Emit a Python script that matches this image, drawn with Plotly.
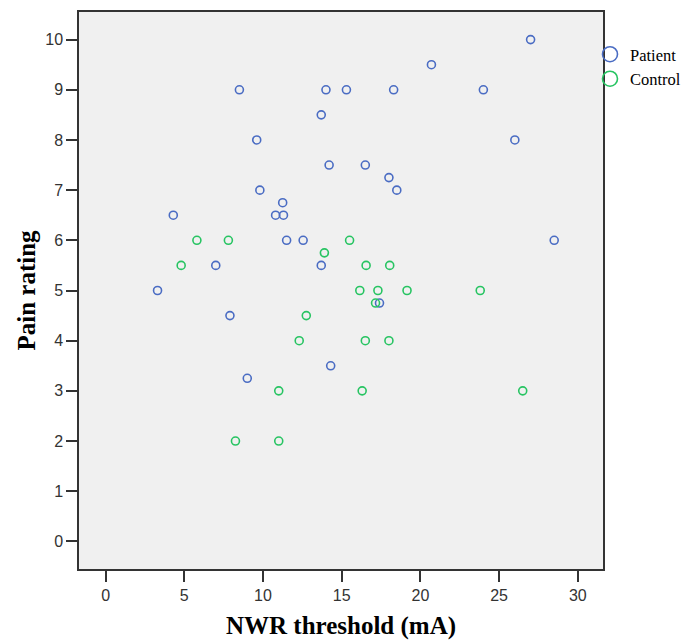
import plotly.graph_objects as go

# Patient series
patient_x = [27.0, 20.7, 8.5, 14.0, 15.3, 18.3, 24.0, 13.7, 9.6, 26.0,
             14.2, 16.5, 18.0, 9.8, 18.5, 11.25, 4.3, 10.8, 11.3, 11.5,
             12.55, 28.5, 7.0, 13.7, 3.3, 17.4, 7.9, 14.3, 9.0]
patient_y = [10, 9.5, 9, 9, 9, 9, 9, 8.5, 8, 8,
             7.5, 7.5, 7.25, 7, 7, 6.75, 6.5, 6.5, 6.5, 6,
             6, 6, 5.5, 5.5, 5, 4.75, 4.5, 3.5, 3.25]

# Control series
control_x = [5.8, 7.8, 15.5, 13.9, 4.8, 16.55, 18.05, 16.15, 17.3, 19.15,
             23.8, 17.15, 12.75, 12.3, 16.5, 18.0, 11.0, 16.3, 26.5, 8.25, 11.0]
control_y = [6, 6, 6, 5.75, 5.5, 5.5, 5.5, 5, 5, 5,
             5, 4.75, 4.5, 4, 4, 4, 3, 3, 3, 2, 2]

x_ticks = [0, 5, 10, 15, 20, 25, 30]
y_ticks = [0, 1, 2, 3, 4, 5, 6, 7, 8, 9, 10]

BLUE = "#4a6cc3"
GREEN = "#27c462"

fig = go.Figure()
fig.add_trace(go.Scatter(x=patient_x, y=patient_y, mode="markers", name="Patient",
                         showlegend=False,
                         marker=dict(symbol="circle-open", size=8, color=BLUE,
                                     line=dict(width=1.6, color=BLUE))))
fig.add_trace(go.Scatter(x=control_x, y=control_y, mode="markers", name="Control",
                         showlegend=False,
                         marker=dict(symbol="circle-open", size=8, color=GREEN,
                                     line=dict(width=1.6, color=GREEN))))
# legend entries
fig.add_trace(go.Scatter(x=[None], y=[None], mode="markers", name="Patient",
                         marker=dict(symbol="circle-open", size=15, color=BLUE,
                                     line=dict(width=1.6, color=BLUE))))
fig.add_trace(go.Scatter(x=[None], y=[None], mode="markers", name="Control",
                         marker=dict(symbol="circle-open", size=15, color=GREEN,
                                     line=dict(width=1.6, color=GREEN))))

tickfont = dict(family="Liberation Sans", size=16, color="#333333")
titlefont = dict(family="Liberation Serif", size=25, color="#000000", weight="bold")

fig.update_layout(
    width=685, height=641,
    margin=dict(l=79, r=82, t=12, b=72, autoexpand=False),
    paper_bgcolor="white",
    plot_bgcolor="#f0f0f0",
    legend=dict(x=590 / 685, y=1 - 37 / 641, xanchor="left", yanchor="top",
                xref="container", yref="container",
                font=dict(family="Liberation Serif", size=16.5, color="#000000"),
                itemwidth=30, tracegroupgap=0, borderwidth=0,
                bgcolor="rgba(0,0,0,0)"),
    xaxis=dict(range=[-1.69, 31.6], tickvals=x_ticks, ticktext=[str(v) for v in x_ticks],
               showgrid=False, zeroline=False, showline=True, mirror=True,
               linecolor="#333333", linewidth=1.5, ticks="outside", ticklen=11,
               tickwidth=1.5, tickcolor="#333333", tickfont=tickfont, automargin=False,
               title=dict(text="NWR threshold (mA)", font=titlefont, standoff=14)),
    yaxis=dict(range=[-0.55, 10.55], tickvals=y_ticks, ticktext=[str(v) for v in y_ticks],
               showgrid=False, zeroline=False, showline=True, mirror=True,
               linecolor="#333333", linewidth=1.5, ticks="outside", ticklen=11,
               tickwidth=1.5, tickcolor="#333333", tickfont=tickfont, automargin=False,
               title=dict(text="Pain rating", font=titlefont, standoff=3)),
)

fig.write_html("out.html", config={"displayModeBar": False},
               post_script="document.body.style.margin='0';")
